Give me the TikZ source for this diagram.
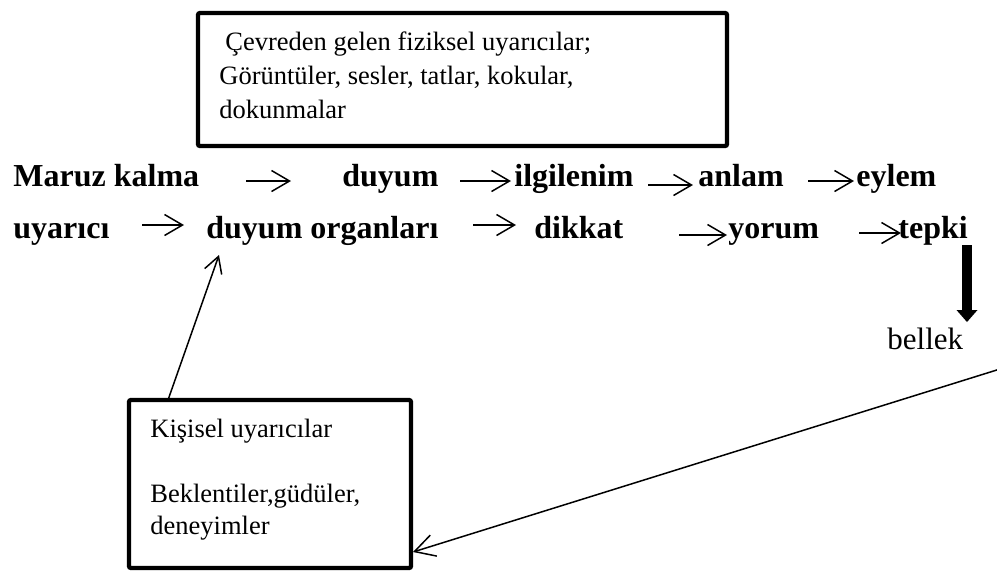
\documentclass[tikz,border=0pt]{standalone}
\usepackage{fontspec}
\setmainfont{Liberation Serif}
\usetikzlibrary{arrows.meta}
\begin{document}
\begin{tikzpicture}[x=0.5pt, y=-0.5pt,
  word/.style={anchor=base west, inner sep=0pt, font=\fontsize{16pt}{19pt}\selectfont\bfseries},
  note/.style={anchor=base west, inner sep=0pt, font=\fontsize{13.25pt}{16pt}\selectfont},
  framebox/.style={draw, line width=2.15pt, rounded corners=1pt, inner sep=0pt},
  glyph/.style={line width=0.75pt, -{Straight Barb[length=9pt, width=10.5pt]}},
  pointer/.style={line width=0.75pt, -{Straight Barb[length=8pt, width=9pt]}},
  longpointer/.style={line width=0.75pt, -{Straight Barb[length=10pt, width=11pt]}},
  heavy/.style={line width=5pt, -{Triangle[length=6pt, width=10.5pt, line width=0pt]}}
]
\useasboundingbox (0,0) rectangle (997,570);

% environmental stimuli box
\node[framebox, minimum width=264.5pt, minimum height=66.5pt] (env) at (462.5,79.5) {};
\node[note] (envA) at (225,50) {Çevreden gelen fiziksel uyarıcılar;};
\node[note] (envB) at (219,84) {Görüntüler, sesler, tatlar, kokular,};
\node[note] (envC) at (219,118) {dokunmalar};

% first row of stages
\node[word] (maruz) at (13,186) {Maruz kalma};
\node[word] (duyum) at (342,186) {duyum};
\node[word] (ilgi)  at (514,186) {ilgilenim};
\node[word] (anlam) at (698,186) {anlam};
\node[word] (eylem) at (856,186) {eylem};

% second row of stages
\node[word] (uyarici) at (13,238) {uyarıcı};
\node[word] (organ)   at (206,238) {duyum organları};
\node[word] (dikkat)  at (534,238) {dikkat};
\node[word] (yorum)   at (728,238) {yorum};
\node[word] (tepki)   at (898,238) {tepki};

% arrow ends between the stages
\coordinate (r1a) at (246,181); \coordinate (r1b) at (291,181);
\coordinate (r2a) at (460,181); \coordinate (r2b) at (511,181);
\coordinate (r3a) at (648,185); \coordinate (r3b) at (693,185);
\coordinate (r4a) at (808,181); \coordinate (r4b) at (854,181);
\coordinate (s1a) at (142,225); \coordinate (s1b) at (184,225);
\coordinate (s2a) at (473,225); \coordinate (s2b) at (516,225);
\coordinate (s3a) at (679,235); \coordinate (s3b) at (727,235);
\coordinate (s4a) at (859,233); \coordinate (s4b) at (901,233);

\draw[glyph] (r1a) -- (r1b);
\draw[glyph] (r2a) -- (r2b);
\draw[glyph] (r3a) -- (r3b);
\draw[glyph] (r4a) -- (r4b);
\draw[glyph] (s1a) -- (s1b);
\draw[glyph] (s2a) -- (s2b);
\draw[glyph] (s3a) -- (s3b);
\draw[glyph] (s4a) -- (s4b);

% response goes to memory
\node[anchor=base west, inner sep=0pt, font=\fontsize{15.5pt}{18pt}\selectfont] (bellek) at (887,349) {bellek};
\coordinate (tdown) at (967,245);
\coordinate (bup) at (967,322);
\draw[heavy] (tdown) -- (bup);

% personal stimuli box
\node[framebox, minimum width=141pt, minimum height=84pt] (kisi) at (270,484) {};
\node[note] (kA) at (150,437) {Kişisel uyarıcılar};
\node[note] (kB) at (150,502) {Beklentiler,güdüler,};
\node[note] (kC) at (150,534) {deneyimler};

% feedback connectors
\coordinate (kisitop) at (168,400);
\coordinate (organlow) at (219,255);
\draw[pointer] (kisitop) -- (organlow);

\coordinate (memout) at (1000,369);
\coordinate (kisiright) at (413,552);
\draw[longpointer] (memout) -- (kisiright);
\end{tikzpicture}
\end{document}
